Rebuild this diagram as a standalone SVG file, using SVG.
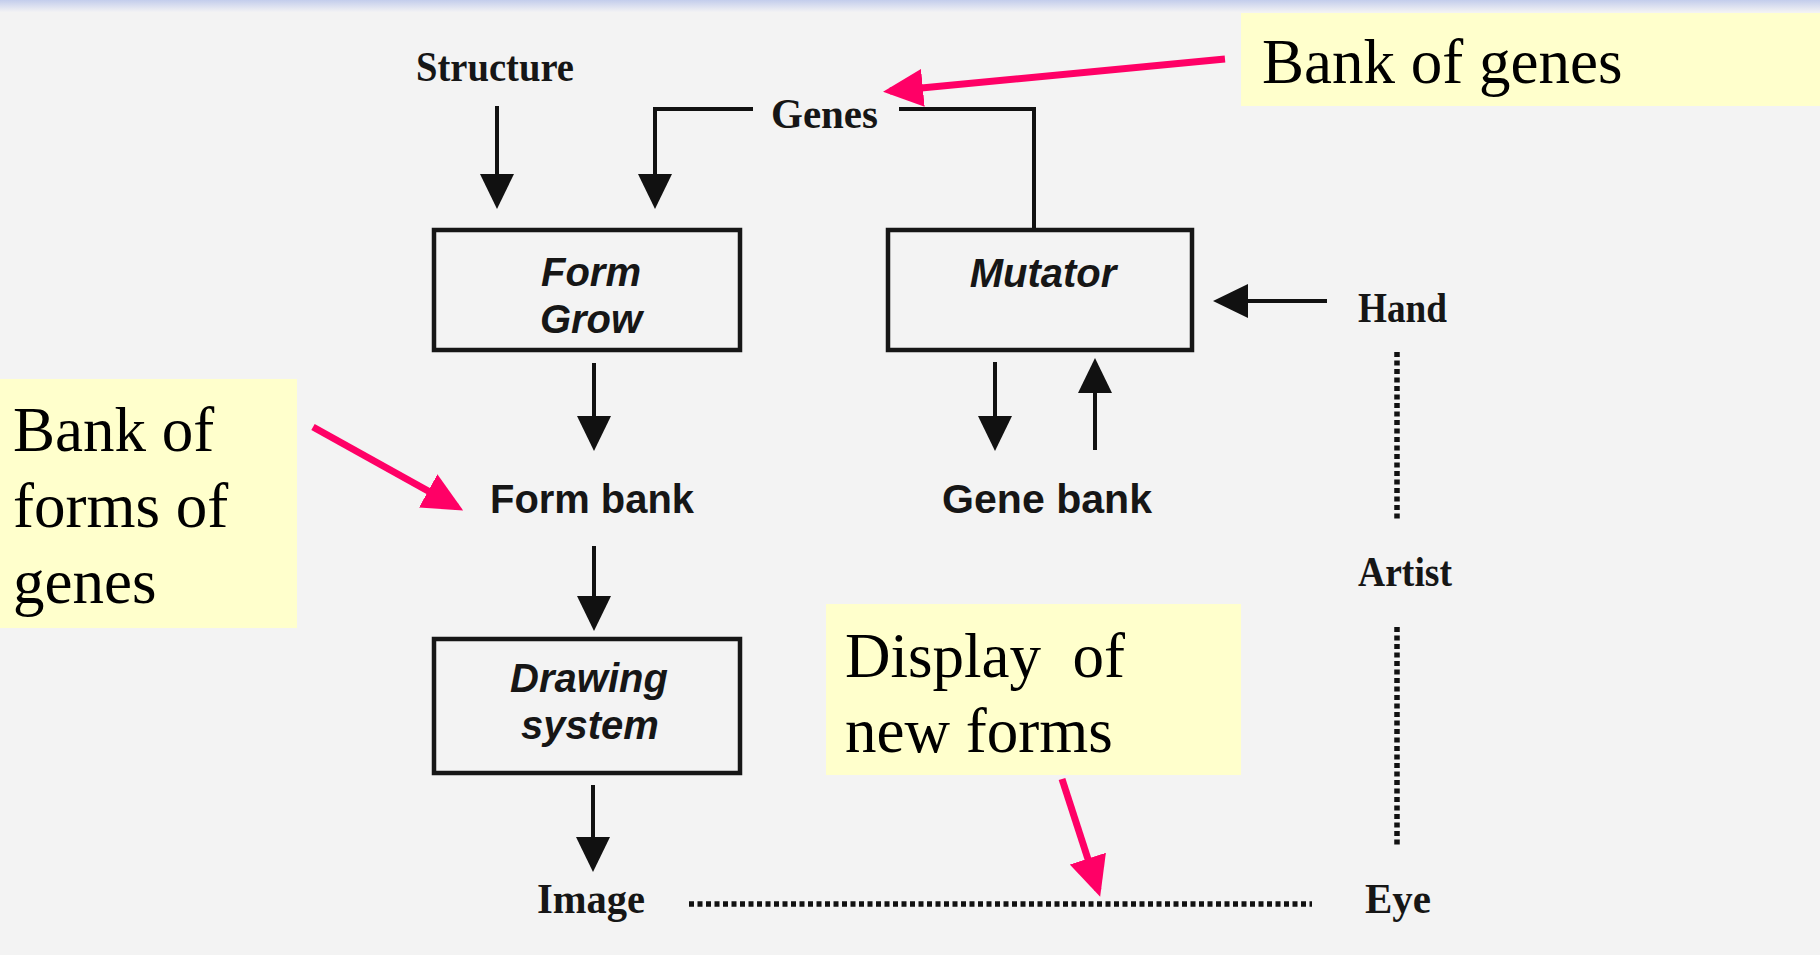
<svg xmlns="http://www.w3.org/2000/svg" width="1820" height="955" viewBox="0 0 1820 955">
  <defs>
    <linearGradient id="topBand" x1="0" y1="0" x2="0" y2="1">
      <stop offset="0" stop-color="#c3cdec"/>
      <stop offset="1" stop-color="#f2f2f4"/>
    </linearGradient>
    <marker id="ah" viewBox="0 0 35 34" refX="31" refY="17" markerWidth="35" markerHeight="34" markerUnits="userSpaceOnUse" orient="auto">
      <path d="M0,0 L35,17 L0,34 z" fill="#111"/>
    </marker>
    <marker id="ahPink" viewBox="0 0 40 38" refX="33" refY="19" markerWidth="40" markerHeight="38" markerUnits="userSpaceOnUse" orient="auto">
      <path d="M0,0 L40,19 L0,38 z" fill="#ff0066"/>
    </marker>
  </defs>
  <style>
    .box { fill: none; stroke: #161616; stroke-width: 4.5; }
    .flow { fill: none; stroke: #111; stroke-width: 4; marker-end: url(#ah); }
    .plain { fill: none; stroke: #111; stroke-width: 4; }
    .dots { fill: none; stroke: #111; stroke-width: 5.5; stroke-dasharray: 5 3.5; }
    .pink { fill: none; stroke: #ff0066; stroke-width: 7; marker-end: url(#ahPink); }
    .note { fill: #ffffcc; }
    .noteText { font-family: "Liberation Serif", "Times New Roman", serif; font-size: 63px; fill: #000; }
    .lbl { font-family: "Liberation Serif", "Times New Roman", serif; font-weight: bold; font-size: 42px; fill: #161616; }
    .sans { font-family: "Liberation Sans", Arial, sans-serif; font-weight: bold; font-size: 40px; fill: #161616; }
    .ital { font-family: "Liberation Sans", Arial, sans-serif; font-weight: bold; font-style: italic; font-size: 40px; fill: #161616; text-anchor: middle; }
  </style>

  <!-- paper background -->
  <rect x="0" y="0" width="1820" height="955" fill="#f3f3f3"/>
  <rect x="0" y="0" width="1820" height="12" fill="url(#topBand)"/>

  <!-- connectors -->
  <g id="connectors">
    <line class="flow" x1="497" y1="106" x2="497" y2="205"/>
    <path class="flow" d="M753,109 H655 V205"/>
    <path class="plain" d="M899,109 H1034 V229"/>
    <line class="flow" x1="594" y1="363" x2="594" y2="447"/>
    <line class="flow" x1="594" y1="546" x2="594" y2="627"/>
    <line class="flow" x1="593" y1="785" x2="593" y2="868"/>
    <line class="flow" x1="995" y1="362" x2="995" y2="447"/>
    <line class="flow" x1="1095" y1="450" x2="1095" y2="362"/>
    <line class="flow" x1="1327" y1="301" x2="1217" y2="301"/>
    <line class="dots" x1="1397" y1="352" x2="1397" y2="522"/>
    <line class="dots" x1="1397" y1="627" x2="1397" y2="847"/>
    <line class="dots" x1="689" y1="904" x2="1312" y2="904"/>
  </g>

  <!-- diagram nodes -->
  <g id="node-structure">
    <text class="lbl" x="416" y="81" textLength="158" lengthAdjust="spacingAndGlyphs">Structure</text>
  </g>
  <g id="node-genes">
    <text class="lbl" x="771" y="128" textLength="107" lengthAdjust="spacingAndGlyphs">Genes</text>
  </g>
  <g id="node-form-grow">
    <rect class="box" x="434" y="230" width="306" height="120"/>
    <text class="ital" x="591" y="286">Form</text>
    <text class="ital" x="591" y="333">Grow</text>
  </g>
  <g id="node-mutator">
    <rect class="box" x="888" y="230" width="304" height="120"/>
    <text class="ital" x="1043" y="287">Mutator</text>
  </g>
  <g id="node-hand">
    <text class="lbl" x="1358" y="322" textLength="89" lengthAdjust="spacingAndGlyphs">Hand</text>
  </g>
  <g id="node-form-bank">
    <text class="sans" x="490" y="513" textLength="204" lengthAdjust="spacingAndGlyphs">Form bank</text>
  </g>
  <g id="node-gene-bank">
    <text class="sans" x="942" y="513" textLength="210" lengthAdjust="spacingAndGlyphs">Gene bank</text>
  </g>
  <g id="node-artist">
    <text class="lbl" x="1358" y="586" textLength="94" lengthAdjust="spacingAndGlyphs">Artist</text>
  </g>
  <g id="node-drawing-system">
    <rect class="box" x="434" y="639" width="306" height="134"/>
    <text class="ital" x="589" y="692">Drawing</text>
    <text class="ital" x="590" y="739">system</text>
  </g>
  <g id="node-image">
    <text class="lbl" x="537" y="913" textLength="108" lengthAdjust="spacingAndGlyphs">Image</text>
  </g>
  <g id="node-eye">
    <text class="lbl" x="1365" y="913" textLength="66" lengthAdjust="spacingAndGlyphs">Eye</text>
  </g>

  <!-- yellow callouts -->
  <g id="note-bank-of-genes">
    <rect class="note" x="1241" y="13" width="579" height="93"/>
    <text class="noteText" x="1262" y="83">Bank of genes</text>
    <line class="pink" x1="1225" y1="59" x2="890" y2="91"/>
  </g>
  <g id="note-bank-of-forms">
    <rect class="note" x="0" y="379" width="297" height="249"/>
    <text class="noteText" x="13" y="451">Bank of</text>
    <text class="noteText" x="13" y="527">forms of</text>
    <text class="noteText" x="13" y="603">genes</text>
    <line class="pink" x1="313" y1="427" x2="457" y2="507"/>
  </g>
  <g id="note-display">
    <rect class="note" x="826" y="604" width="415" height="171"/>
    <text class="noteText" x="845" y="677" xml:space="preserve">Display  of</text>
    <text class="noteText" x="845" y="752">new forms</text>
    <line class="pink" x1="1062" y1="779" x2="1098" y2="890"/>
  </g>
</svg>
